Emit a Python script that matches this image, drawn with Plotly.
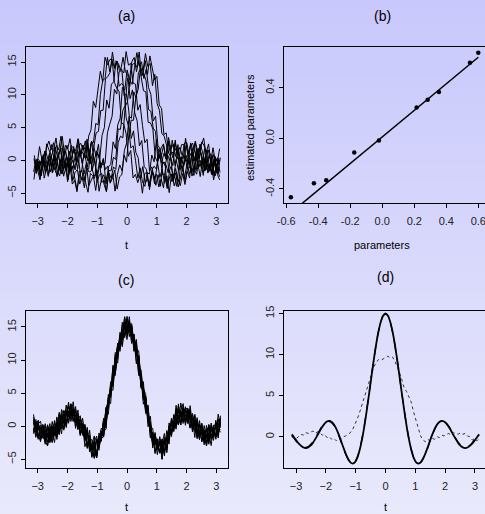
import numpy as np
import plotly.graph_objects as go

# ---------------- data ----------------
# sampling grid of the functional data (81 points on [-pi, pi])
t = np.linspace(-np.pi, np.pi, 81)

# true template (solid line in d)
template = [0.29, -0.08, -0.47, -0.83, -1.11, -1.31, -1.37, -1.29, -1.08, -0.74,
            -0.29, 0.21, 0.73, 1.21, 1.60, 1.85, 1.92, 1.80, 1.48, 0.96,
            0.29, -0.48, -1.29, -2.05, -2.68, -3.11, -3.26, -3.09, -2.53, -1.59,
            -0.29, 1.33, 3.20, 5.23, 7.32, 9.36, 11.22, 12.80, 14.00, 14.74, 15.0,
            14.74, 14.00, 12.80, 11.22, 9.36, 7.32, 5.23, 3.20, 1.33, -0.29,
            -1.59, -2.53, -3.09, -3.26, -3.11, -2.68, -2.05, -1.29, -0.48, 0.29,
            0.96, 1.48, 1.80, 1.92, 1.85, 1.60, 1.21, 0.73, 0.21, -0.29,
            -0.74, -1.08, -1.29, -1.37, -1.31, -1.11, -0.83, -0.47, -0.08, 0.29]

# estimated template (dashed line in d)
template_est = [0.1, -0.2, -0.6, -0.9, -1.15, -1.25, -1.3, -1.2, -0.95, -0.6,
                -0.15, 0.35, 0.85, 1.3, 1.65, 1.85, 1.88, 1.72, 1.38, 0.85,
                0.17, -0.6, -1.4, -2.12, -2.72, -3.12, -3.22, -3.02, -2.44, -1.48,
                -0.15, 1.45, 3.32, 5.33, 7.40, 9.42, 11.25, 12.80, 13.96, 14.68, 14.92,
                14.68, 13.95, 12.76, 11.18, 9.33, 7.30, 5.22, 3.21, 1.36, -0.25,
                -1.55, -2.50, -3.07, -3.25, -3.12, -2.71, -2.10, -1.36, -0.56, 0.21,
                0.90, 1.44, 1.78, 1.92, 1.87, 1.65, 1.28, 0.82, 0.31, -0.19,
                -0.64, -0.98, -1.20, -1.29, -1.24, -1.04, -0.74, -0.36, 0.05, 0.42]

# cross-sectional mean of the unaligned curves (dotted line in d)
mean_curve = [0.2, -0.1, -0.2, 0.0, 0.3, 0.2, 0.5, 0.4, 0.6, 0.7,
              0.4, 0.6, 0.5, 0.2, 0.3, -0.1, 0.0, -0.3, -0.2, -0.5,
              -0.2, -0.3, 0.0, 0.1, 0.3, 0.5, 0.9, 1.5, 2.2, 3.0,
              3.9, 4.8, 5.9, 6.8, 7.7, 8.5, 9.0, 9.4, 9.3, 9.5, 9.6,
              9.8, 9.6, 9.7, 9.2, 8.6, 7.8, 6.9, 5.9, 5.5, 4.9,
              4.2, 3.0, 2.0, 1.2, 0.1, -0.4, -0.6, -0.3, -0.5, -0.2,
              -0.3, 0.0, -0.1, 0.2, 0.1, 0.3, 0.4, 0.2, 0.5, 0.4,
              0.3, 0.5, 0.3, 0.4, 0.1, 0.0, -0.4, -0.2, -0.5, -0.2]

# observation noise of each curve
noise = [
    [0.8,-0.4,1.2,-1.1,0.3,-0.9,1.6,0.2,-1.4,0.7,-0.2,1.9,-0.6,-1.8,0.4,1.1,-0.3,0.9,-1.5,0.1,
     1.3,-0.8,0.6,-1.2,2.1,-0.5,0.2,-1.7,0.9,-0.1,1.4,-1.0,0.5,-0.6,1.7,-1.3,0.0,0.8,-2.0,1.0,
     -0.4,0.6,1.5,-0.9,-0.2,1.2,-1.6,0.3,0.9,-0.7,1.8,-1.1,0.4,-0.3,1.0,-1.9,0.7,0.2,-0.8,1.3,
     -0.5,2.2,-1.2,0.1,0.6,-1.4,1.1,-0.2,0.5,-1.0,1.6,-0.7,0.3,-1.5,0.8,1.2,-0.6,0.0,-1.1,1.9,-0.3],
    [-1.2,0.5,0.9,-0.3,1.4,-0.8,-1.6,0.2,1.1,-0.5,0.7,-1.3,1.8,0.4,-0.9,-0.2,1.5,-1.1,0.3,0.8,
     -1.7,0.6,-0.4,1.2,-0.1,-1.4,0.9,1.6,-0.7,0.1,-1.0,1.3,-0.5,0.4,-1.9,0.7,1.0,-0.3,1.7,-1.2,
     0.2,-0.6,1.1,-1.5,0.5,2.0,-0.8,0.0,-1.3,0.9,0.3,-1.1,1.4,-0.2,-0.7,1.2,-1.8,0.6,0.4,-0.9,
     1.5,-0.4,0.8,-1.6,1.0,-0.1,-1.2,1.9,-0.5,0.3,-1.4,0.7,1.1,-0.8,0.2,-1.0,1.6,-0.3,0.5,-1.7,0.9],
    [0.3,1.1,-0.7,-1.5,0.6,1.4,-0.2,0.8,-1.2,-0.4,1.7,-0.9,0.1,1.2,-1.6,0.5,-0.3,1.9,-1.0,0.4,
     -0.6,0.9,-1.8,0.2,1.3,-0.5,0.7,-1.1,1.5,-0.2,-1.3,0.6,1.0,-0.8,0.3,-1.7,1.2,0.0,-0.6,1.8,
     -1.0,0.4,-0.3,1.1,-1.4,0.8,0.2,-1.9,1.3,-0.1,0.7,-1.2,1.6,-0.4,0.5,-0.9,1.0,-1.5,0.3,1.4,
     -0.7,0.1,-1.3,1.7,-0.2,0.6,-1.0,1.2,-1.6,0.4,0.9,-0.5,1.5,-1.1,0.0,-0.8,1.3,-0.3,0.7,-1.4,1.0],
    [-0.5,-1.3,0.8,1.6,-0.2,0.4,-1.0,1.2,0.1,-1.7,0.9,-0.4,1.3,-0.8,-0.1,1.8,-1.2,0.5,-0.6,1.0,
     -1.5,0.3,1.4,-0.9,0.7,-0.3,-1.6,1.1,0.2,-0.7,1.5,-1.1,0.6,-0.2,1.9,-1.4,0.4,-0.8,1.2,0.0,
     -1.2,1.0,-0.5,0.3,-1.8,1.4,-0.1,0.8,-1.0,1.7,-0.6,0.2,-1.4,0.9,1.3,-0.7,0.5,-1.9,1.1,-0.3,
     0.6,-1.0,1.6,-0.4,0.1,-1.3,0.8,1.2,-0.9,0.4,-1.6,1.0,-0.2,0.7,-1.1,1.5,-0.5,0.3,-1.2,0.8,0.2],
    [1.5,-0.2,-1.1,0.6,0.9,-1.4,0.3,-0.7,1.8,-0.5,-1.0,0.4,1.2,-1.6,0.7,-0.1,1.4,-0.9,0.2,-1.3,
     1.1,0.5,-0.8,1.7,-1.2,0.0,0.9,-1.5,0.6,1.3,-0.4,-1.8,1.0,0.3,-0.6,1.5,-1.1,0.7,-0.3,-1.4,
     1.6,-0.2,0.8,-1.0,0.4,-1.7,1.2,0.1,-0.5,1.9,-1.3,0.6,-0.1,1.0,-0.8,0.3,-1.5,1.4,-0.6,0.9,
     -1.1,1.7,-0.4,0.2,-1.2,0.8,1.1,-0.7,0.5,-1.9,1.3,-0.3,0.6,-1.0,1.5,-0.5,0.0,-1.3,1.1,-0.2,-0.8],
    [-0.9,0.7,-1.5,0.2,1.3,-0.6,1.0,-1.2,-0.1,1.6,-0.8,0.5,-1.9,1.1,0.3,-0.4,1.4,-1.0,0.8,-0.2,
     -1.3,1.7,0.1,-0.7,1.2,-1.6,0.4,0.9,-1.1,0.6,-0.3,1.5,-1.4,0.2,-0.9,1.8,-0.5,1.0,-1.7,0.3,
     0.7,-1.2,1.3,-0.1,-0.6,1.1,-1.5,0.5,1.6,-0.8,0.0,-1.0,1.2,-0.4,0.9,-1.8,0.6,-0.2,1.4,-1.1,
     0.3,-0.7,1.9,-1.3,0.1,0.8,-0.5,-1.4,1.0,0.4,-1.2,1.6,-0.3,0.7,-1.6,0.2,1.1,-0.9,0.5,-0.1,1.3],
    [0.6,-1.6,0.1,1.0,-0.7,1.7,-0.3,-1.1,0.8,0.4,-1.4,1.2,-0.6,0.9,-1.8,0.3,0.7,-0.2,1.5,-1.0,
     0.2,-0.9,1.4,-1.3,0.5,1.1,-0.4,-1.7,1.0,0.0,0.8,-1.2,1.6,-0.5,0.3,-1.0,1.3,-1.5,0.6,0.1,
     -0.8,1.8,-1.1,0.4,0.9,-1.6,0.2,-0.3,1.2,-1.4,1.0,-0.6,0.5,-1.2,1.7,-0.1,0.7,-1.9,0.4,0.8,
     -1.0,1.3,-0.4,0.6,-1.5,1.1,-0.2,0.9,-1.3,1.6,-0.7,0.2,-1.1,1.4,-0.5,0.3,-1.8,1.0,0.6,-0.4,-1.2],
    [1.1,0.2,-1.3,0.7,-0.4,-1.0,1.5,-0.8,0.5,1.2,-1.7,0.0,0.9,-0.5,1.6,-1.2,0.4,-0.3,1.1,-1.5,
     0.8,0.3,-1.0,1.9,-0.7,0.1,-1.4,1.2,-0.2,0.6,-1.1,1.4,0.5,-1.8,0.9,-0.4,1.0,-1.2,0.2,1.7,
     -0.6,0.3,-1.5,1.1,-0.1,0.7,-1.3,1.5,-0.9,0.4,-0.2,1.3,-1.6,0.6,1.0,-0.8,0.1,-1.1,1.8,-0.5,
     0.5,-1.4,1.2,-0.3,0.8,-1.7,0.9,0.2,-1.0,1.4,-0.6,1.1,-1.3,0.4,-0.2,1.6,-0.9,0.7,-1.5,0.3,0.6],
    [-1.4,0.9,0.4,-0.8,1.3,-1.1,0.2,1.7,-0.6,-0.3,1.0,-1.5,0.6,0.1,-1.2,1.4,-0.7,1.1,-1.8,0.5,
     0.3,-0.6,1.6,-1.0,0.7,-0.2,1.2,-1.6,0.4,0.9,-1.3,0.2,-0.5,1.5,-0.9,1.1,-1.7,0.6,0.0,-1.0,
     1.3,-0.4,0.8,-1.4,1.9,-0.7,0.3,-1.1,0.5,1.0,-1.5,0.7,-0.3,1.2,-0.8,0.4,1.6,-1.2,0.1,-0.6,
     1.4,-1.0,0.2,-1.6,0.9,0.5,-0.4,1.3,-1.1,0.7,-0.1,-1.3,1.5,-0.6,1.0,-1.4,0.3,0.8,-0.9,1.2,-0.5],
    [0.2,-0.8,1.4,-1.2,-0.3,0.9,-1.6,0.5,1.1,-0.7,0.4,1.6,-1.1,-0.2,0.8,-1.4,1.0,0.3,-0.9,1.5,
     -1.5,0.6,-0.1,1.2,-0.8,0.4,1.8,-1.3,0.0,-0.6,1.1,-1.6,0.7,0.9,-1.2,0.3,-0.4,1.4,-1.0,0.5,
     -1.9,1.2,0.1,-0.5,1.6,-0.9,0.6,-1.3,1.0,-0.2,0.8,-1.7,1.3,0.2,-0.6,1.1,-1.0,0.4,-1.4,1.7,
     -0.3,0.9,-1.2,0.5,1.5,-0.8,0.0,-1.5,1.2,-0.4,0.7,-1.1,1.0,-0.2,-1.6,1.3,0.6,-0.7,1.4,-1.0,0.3],
]

# shift of each raw curve in panel (a)
shift_a = [-0.66, -0.50, -0.41, -0.21, -0.03, 0.24, 0.33, 0.41, 0.62, 0.69]

# panel (b): true vs estimated parameters
params = [-0.571, -0.427, -0.350, -0.175, -0.021, 0.215, 0.284, 0.354, 0.548, 0.600]
est_params = [-0.465, -0.355, -0.332, -0.112, -0.018, 0.243, 0.304, 0.366, 0.596, 0.675]
line_x = [-0.571, 0.548, 0.600]
line_y = [-0.588, 0.591, 0.640]

# ---------------- figure ----------------
W, H = 485, 514
fig = go.Figure()
FONT = "Liberation Sans, Arial, sans-serif"

# background gradient
top = np.array([200, 200, 252])
bot = np.array([233, 233, 252])
NS = 60
shapes = []
for i in range(NS):
    f = i / (NS - 1)
    c = bot + (top - bot) * f
    shapes.append(dict(type="rect", xref="paper", yref="paper", x0=0, x1=1,
                       y0=i / NS, y1=(i + 1) / NS + 0.002, layer="below",
                       line=dict(width=0),
                       fillcolor="rgb(%d,%d,%d)" % tuple(c.round())))

n = len(t)
# panel (a): raw (shifted) curves, periodic wrap
for s, e in zip(shift_a, noise):
    m = min(n, len(e), len(template)) - 1
    y = np.array(template[:m]) + np.array(e[:m])
    x = np.mod(t[:m] + s + np.pi, 2 * np.pi) - np.pi
    o = np.argsort(x)
    fig.add_trace(go.Scatter(x=x[o], y=y[o], mode="lines", xaxis="x", yaxis="y",
                             line=dict(color="black", width=1), showlegend=False,
                             hoverinfo="skip"))

# panel (b)
fig.add_trace(go.Scatter(x=line_x, y=line_y, mode="lines", xaxis="x2", yaxis="y2",
                         line=dict(color="black", width=1.5), showlegend=False))
fig.add_trace(go.Scatter(x=params, y=est_params, mode="markers", xaxis="x2", yaxis="y2",
                         marker=dict(color="black", size=4.5), showlegend=False))

# panel (c): registered curves
for e in noise:
    m = min(n, len(e), len(template))
    y = np.array(template[:m]) + np.array(e[:m])
    fig.add_trace(go.Scatter(x=t[:m], y=y, mode="lines", xaxis="x3", yaxis="y3",
                             line=dict(color="black", width=1), showlegend=False,
                             hoverinfo="skip"))

# panel (d)
fig.add_trace(go.Scatter(x=t, y=mean_curve, mode="lines", xaxis="x4", yaxis="y4",
                         line=dict(color="#333333", width=1, dash="dot"), showlegend=False))
fig.add_trace(go.Scatter(x=t, y=template, mode="lines", xaxis="x4", yaxis="y4",
                         line=dict(color="black", width=1.8, shape="spline"), showlegend=False))
fig.add_trace(go.Scatter(x=t, y=template_est, mode="lines", xaxis="x4", yaxis="y4",
                         line=dict(color="black", width=1.3, dash="dash", shape="spline"),
                         showlegend=False))

def px(x): return x / W
def py(y): return 1 - y / H

tickfont = dict(family=FONT, size=11, color="#222222")
common = dict(showline=True, mirror=True, linecolor="black", linewidth=1,
              ticks="outside", ticklen=4, tickcolor="black", tickfont=tickfont,
              showgrid=False, zeroline=False, fixedrange=True, automargin=False,
              ticklabeloverflow="allow")
xcommon = dict(common, ticklabelstandoff=4)
ycommon = dict(common, tickangle=-90, ticklabelstandoff=1)

dom_left = [px(26), px(228)]
dom_right = [px(284), 1.0]
dom_top = [py(203), py(47)]
dom_bot = [py(468), py(311)]

fig.update_layout(
    width=W, height=H, margin=dict(l=0, r=0, t=0, b=0, pad=0, autoexpand=False),
    paper_bgcolor="rgb(216,216,252)", plot_bgcolor="rgba(0,0,0,0)",
    shapes=shapes,
    xaxis=dict(domain=dom_left, range=[-3.393, 3.393], tickvals=[-3, -2, -1, 0, 1, 2, 3],
               anchor="y", **xcommon),
    yaxis=dict(domain=dom_top, range=[-6.5, 17.3], tickvals=[-5, 0, 5, 10, 15],
               anchor="x", **ycommon),
    xaxis2=dict(domain=dom_right, range=[-0.614, 0.642],
                tickvals=[-0.6, -0.4, -0.2, 0.0, 0.2, 0.4, 0.6],
                ticktext=["-0.6", "-0.4", "-0.2", "0.0", "0.2", "0.4", "0.6"],
                anchor="y2", **xcommon),
    yaxis2=dict(domain=dom_top, range=[-0.511, 0.721], tickvals=[-0.4, 0.0, 0.4],
                ticktext=["-0.4", "0.0", "0.4"], anchor="x2", **ycommon),
    xaxis3=dict(domain=dom_left, range=[-3.393, 3.393], tickvals=[-3, -2, -1, 0, 1, 2, 3],
                anchor="y3", **xcommon),
    yaxis3=dict(domain=dom_bot, range=[-6.3, 17.4], tickvals=[-5, 0, 5, 10, 15],
                anchor="x3", **ycommon),
    xaxis4=dict(domain=dom_right, range=[-3.403, 3.336], tickvals=[-3, -2, -1, 0, 1, 2, 3],
                anchor="y4", **xcommon),
    yaxis4=dict(domain=dom_bot, range=[-3.8, 15.3], tickvals=[0, 5, 10, 15],
                anchor="x4", **ycommon),
)

ann = []
def add_text(x, y, text, size=11, angle=0):
    ann.append(dict(x=px(x), y=py(y), xref="paper", yref="paper", text=text,
                    showarrow=False, xanchor="center", yanchor="middle", textangle=angle,
                    font=dict(family=FONT, size=size, color="black")))

add_text(126, 16, "(a)", 14)
add_text(382, 16, "(b)", 14)
add_text(126, 280, "(c)", 14)
add_text(385, 277, "(d)", 14)
add_text(126, 245, "t", 11)
add_text(382, 245, "parameters", 11)
add_text(250, 127, "estimated parameters", 11, -90)
add_text(126, 507, "t", 11)
add_text(385, 507, "t", 11)
fig.update_layout(annotations=ann)

fig.write_html("out.html", config={"displayModeBar": False},
               post_script="document.body.style.margin='0';document.body.style.overflow='hidden';")
